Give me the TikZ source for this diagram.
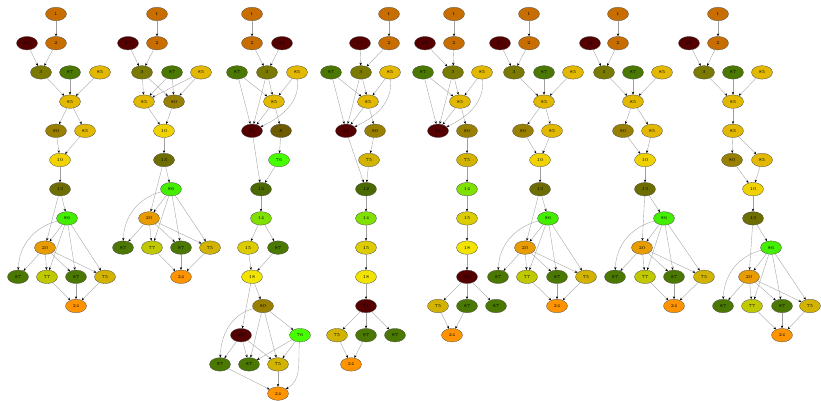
\documentclass[tikz,border=0pt]{standalone}
\usetikzlibrary{arrows.meta,shapes.geometric}
\definecolor{k1}{HTML}{C86E00}
\definecolor{k21}{HTML}{550000}
\definecolor{k3}{HTML}{7A7A00}
\definecolor{k87}{HTML}{4A7800}
\definecolor{k85}{HTML}{E2B800}
\definecolor{k80}{HTML}{9A8000}
\definecolor{k10}{HTML}{F0D200}
\definecolor{k13}{HTML}{6E6E00}
\definecolor{k86}{HTML}{44EE00}
\definecolor{k20}{HTML}{E89C00}
\definecolor{k77}{HTML}{C0C800}
\definecolor{k75}{HTML}{D2B400}
\definecolor{k24}{HTML}{FF9400}
\definecolor{k76}{HTML}{48FF00}
\definecolor{k12}{HTML}{4A6A00}
\definecolor{k14}{HTML}{80E000}
\definecolor{k15}{HTML}{DCCC00}
\definecolor{k18}{HTML}{F2E400}
\definecolor{k8}{HTML}{6E5A00}
\newcommand\nd[5]{\node[nd,fill=#5] (#1) at (#2,{-14-29.2*(#3-1)}) {#4};}
\tikzset{
  nd/.style={ellipse, draw=gray!60!black, line width=0.3pt, minimum width=21pt, minimum height=13.5pt, inner sep=0pt, font=\fontsize{4.5}{5}\selectfont},
  ed/.style={draw=gray!75, line width=0.35pt, -{Stealth[length=2.8pt,width=2.3pt,color=black]}}
}
\begin{document}
\begin{tikzpicture}[x=1pt,y=1pt]
\useasboundingbox (0,0) rectangle (821,-401);
% ---------- graph 1
\nd{a1}{56}{1}{1}{k1}
\nd{a21}{27}{2}{21}{k21}\nd{a2}{56}{2}{2}{k1}
\nd{a3}{41}{3}{3}{k3}\nd{a87}{70}{3}{87}{k87}\nd{a85}{100}{3}{85}{k85}
\nd{a88}{70}{4}{85}{k85}
\nd{a80}{56}{5}{80}{k80}\nd{a85b}{85}{5}{85}{k85}
\nd{a10}{60}{6}{10}{k10}
\nd{a13}{60}{7}{13}{k13}
\nd{a86}{67}{8}{86}{k86}
\nd{a20}{45}{9}{20}{k20}
\nd{a87a}{18}{10}{87}{k87}\nd{a77}{47}{10}{77}{k77}\nd{a87b}{76}{10}{87}{k87}\nd{a75}{105}{10}{75}{k75}
\nd{a24}{76}{11}{24}{k24}
% ---------- graph 2
\nd{b1}{157}{1}{1}{k1}
\nd{b21}{128}{2}{21}{k21}\nd{b2}{157}{2}{2}{k1}
\nd{b3}{142}{3}{3}{k3}\nd{b87}{172}{3}{87}{k87}\nd{b85}{201}{3}{85}{k85}
\nd{b88}{144}{4}{85}{k85}\nd{b80}{174}{4}{80}{k80}
\nd{b10}{164}{5}{10}{k10}
\nd{b13}{164}{6}{13}{k13}
\nd{b86}{171}{7}{86}{k86}
\nd{b20}{149}{8}{20}{k20}
\nd{b87a}{123}{9}{87}{k87}\nd{b77}{152}{9}{77}{k77}\nd{b87b}{181}{9}{87}{k87}\nd{b75}{210}{9}{75}{k75}
\nd{b24}{181}{10}{24}{k24}
% ---------- graph 3
\nd{c1}{252}{1}{1}{k1}
\nd{c2}{252}{2}{2}{k1}\nd{c21}{282}{2}{21}{k21}
\nd{c87}{237}{3}{87}{k87}\nd{c3}{267}{3}{3}{k3}\nd{c85}{297}{3}{85}{k85}
\nd{c88}{274}{4}{85}{k85}
\nd{c21a}{252}{5}{21}{k21}\nd{c8}{281}{5}{8}{k8}
\nd{c76}{279}{6}{76}{k76}
\nd{c12}{261}{7}{12}{k12}
\nd{c14}{261}{8}{14}{k14}
\nd{c15}{248}{9}{15}{k15}\nd{c87b}{278}{9}{87}{k87}
\nd{c18}{252}{10}{18}{k18}
\nd{c80}{263}{11}{80}{k80}
\nd{c21b}{241}{12}{21}{k21}\nd{c76b}{300}{12}{76}{k76}
\nd{c87c}{220}{13}{87}{k87}\nd{c87d}{249}{13}{87}{k87}\nd{c75}{278}{13}{75}{k75}
\nd{c24}{278}{14}{24}{k24}
% ---------- graph 4
\nd{d1}{389}{1}{1}{k1}
\nd{d21}{360}{2}{21}{k21}\nd{d2}{389}{2}{2}{k1}
\nd{d87}{331}{3}{87}{k87}\nd{d3}{361}{3}{3}{k3}\nd{d85}{390}{3}{85}{k85}
\nd{d88}{368}{4}{85}{k85}
\nd{d21a}{346}{5}{21}{k21}\nd{d80}{375}{5}{80}{k80}
\nd{d75}{369}{6}{75}{k75}
\nd{d12}{366}{7}{12}{k12}
\nd{d14}{366}{8}{14}{k14}
\nd{d15}{366}{9}{15}{k15}
\nd{d18}{366}{10}{18}{k18}
\nd{d21b}{366}{11}{21}{k21}
\nd{d75b}{337}{12}{75}{k75}\nd{d87a}{366}{12}{87}{k87}\nd{d87b}{395}{12}{87}{k87}
\nd{d24}{351}{13}{24}{k24}
% ---------- graph 5
\nd{e1}{454}{1}{1}{k1}
\nd{e21}{425}{2}{21}{k21}\nd{e2}{454}{2}{2}{k1}
\nd{e87}{423}{3}{87}{k87}\nd{e3}{453}{3}{3}{k3}\nd{e85}{482}{3}{85}{k85}
\nd{e88}{460}{4}{85}{k85}
\nd{e21a}{438}{5}{21}{k21}\nd{e80}{467}{5}{80}{k80}
\nd{e75}{467}{6}{75}{k75}
\nd{e14}{467}{7}{14}{k14}
\nd{e15}{467}{8}{15}{k15}
\nd{e18}{467}{9}{18}{k18}
\nd{e21b}{467}{10}{21}{k21}
\nd{e75b}{438}{11}{75}{k75}\nd{e87a}{467}{11}{87}{k87}\nd{e87b}{496}{11}{87}{k87}
\nd{e24}{452}{12}{24}{k24}
% ---------- graph 6
\nd{f1}{529}{1}{1}{k1}
\nd{f21}{500}{2}{21}{k21}\nd{f2}{529}{2}{2}{k1}
\nd{f3}{514}{3}{3}{k3}\nd{f87}{544}{3}{87}{k87}\nd{f85}{573}{3}{85}{k85}
\nd{f88}{544}{4}{85}{k85}
\nd{f80}{523}{5}{80}{k80}\nd{f85b}{552}{5}{85}{k85}
\nd{f10}{540}{6}{10}{k10}
\nd{f13}{540}{7}{13}{k13}
\nd{f86}{548}{8}{86}{k86}
\nd{f20}{525}{9}{20}{k20}
\nd{f87a}{498}{10}{87}{k87}\nd{f77}{527}{10}{77}{k77}\nd{f87b}{557}{10}{87}{k87}\nd{f75}{586}{10}{75}{k75}
\nd{f24}{557}{11}{24}{k24}
% ---------- graph 7
\nd{g1}{618}{1}{1}{k1}
\nd{g21}{590}{2}{21}{k21}\nd{g2}{618}{2}{2}{k1}
\nd{g3}{604}{3}{3}{k3}\nd{g87}{633}{3}{87}{k87}\nd{g85}{662}{3}{85}{k85}
\nd{g88}{633}{4}{85}{k85}
\nd{g80}{623}{5}{80}{k80}\nd{g85b}{652}{5}{85}{k85}
\nd{g10}{645}{6}{10}{k10}
\nd{g13}{645}{7}{13}{k13}
\nd{g86}{664}{8}{86}{k86}
\nd{g20}{642}{9}{20}{k20}
\nd{g87a}{615}{10}{87}{k87}\nd{g77}{645}{10}{77}{k77}\nd{g87b}{674}{10}{87}{k87}\nd{g75}{704}{10}{75}{k75}
\nd{g24}{674}{11}{24}{k24}
% ---------- graph 8
\nd{h1}{718}{1}{1}{k1}
\nd{h21}{689}{2}{21}{k21}\nd{h2}{718}{2}{2}{k1}
\nd{h3}{704}{3}{3}{k3}\nd{h87}{733}{3}{87}{k87}\nd{h85}{762}{3}{85}{k85}
\nd{h88}{733}{4}{85}{k85}
\nd{h85b}{733}{5}{85}{k85}
\nd{h80}{732}{6}{80}{k80}\nd{h85c}{762}{6}{85}{k85}
\nd{h10}{753}{7}{10}{k10}
\nd{h13}{753}{8}{13}{k13}
\nd{h86}{771}{9}{86}{k86}
\nd{h20}{749}{10}{20}{k20}
\nd{h87a}{723}{11}{87}{k87}\nd{h77}{752}{11}{77}{k77}\nd{h87b}{782}{11}{87}{k87}\nd{h75}{810}{11}{75}{k75}
\nd{h24}{782}{12}{24}{k24}
% ---------- edges
\foreach \p in {a,f,g}{
  \foreach \s/\t in {1/2,21/3,2/3,3/88,87/88,85/88,88/80,88/85b,80/10,85b/10,10/13,13/86,13/20,86/20,86/77,86/87b,86/75,20/87a,20/77,20/87b,20/75,77/24,87b/24,75/24}
    \draw[ed] (\p\s) -- (\p\t);
  \draw[ed] (\p86) to[out=195,in=88] (\p87a);
}
\foreach \s/\t in {1/2,21/3,2/3,3/88,87/88,85/88,88/85b,85b/80,85b/85c,80/10,85c/10,10/13,13/86,13/20,86/20,86/77,86/87b,86/75,20/87a,20/77,20/87b,20/75,77/24,87b/24,75/24}
  \draw[ed] (h\s) -- (h\t);
\draw[ed] (h86) to[out=195,in=88] (h87a);
\foreach \s/\t in {1/2,21/3,2/3,3/88,3/80,87/88,87/80,85/88,85/80,88/10,80/10,10/13,13/86,13/20,86/20,86/77,86/87b,86/75,20/87a,20/77,20/87b,20/75,77/24,87b/24,75/24}
  \draw[ed] (b\s) -- (b\t);
\draw[ed] (b86) to[out=195,in=88] (b87a);
\foreach \s/\t in {1/2,2/3,21/3,87/88,3/88,85/88,87/21a,3/21a,88/21a,88/8,8/76,21a/12,76/12,12/14,14/15,14/87b,15/18,87b/18,18/80,18/21b,80/87d,80/75,80/76b,21b/87c,21b/87d,21b/75,76b/87d,76b/75,87c/24,75/24}
  \draw[ed] (c\s) -- (c\t);
\draw[ed] (c85) to[out=-85,in=25] (c21a);
\draw[ed] (c80) to[out=195,in=88] (c87c);
\draw[ed] (c76b) to[out=-95,in=30] (c24);
\foreach \s/\t in {1/2,21/3,2/3,87/88,3/88,85/88,87/21a,3/21a,88/21a,88/80,80/75,21a/12,75/12,12/14,14/15,15/18,18/21b,21b/75b,21b/87a,21b/87b,75b/24,87a/24}
  \draw[ed] (d\s) -- (d\t);
\draw[ed] (d85) to[out=-85,in=25] (d21a);
\foreach \s/\t in {1/2,21/3,2/3,87/88,3/88,85/88,87/21a,3/21a,88/21a,88/80,80/75,75/14,14/15,15/18,18/21b,21b/75b,21b/87a,21b/87b,75b/24,87a/24}
  \draw[ed] (e\s) -- (e\t);
\draw[ed] (e85) to[out=-85,in=25] (e21a);
\end{tikzpicture}
\end{document}
